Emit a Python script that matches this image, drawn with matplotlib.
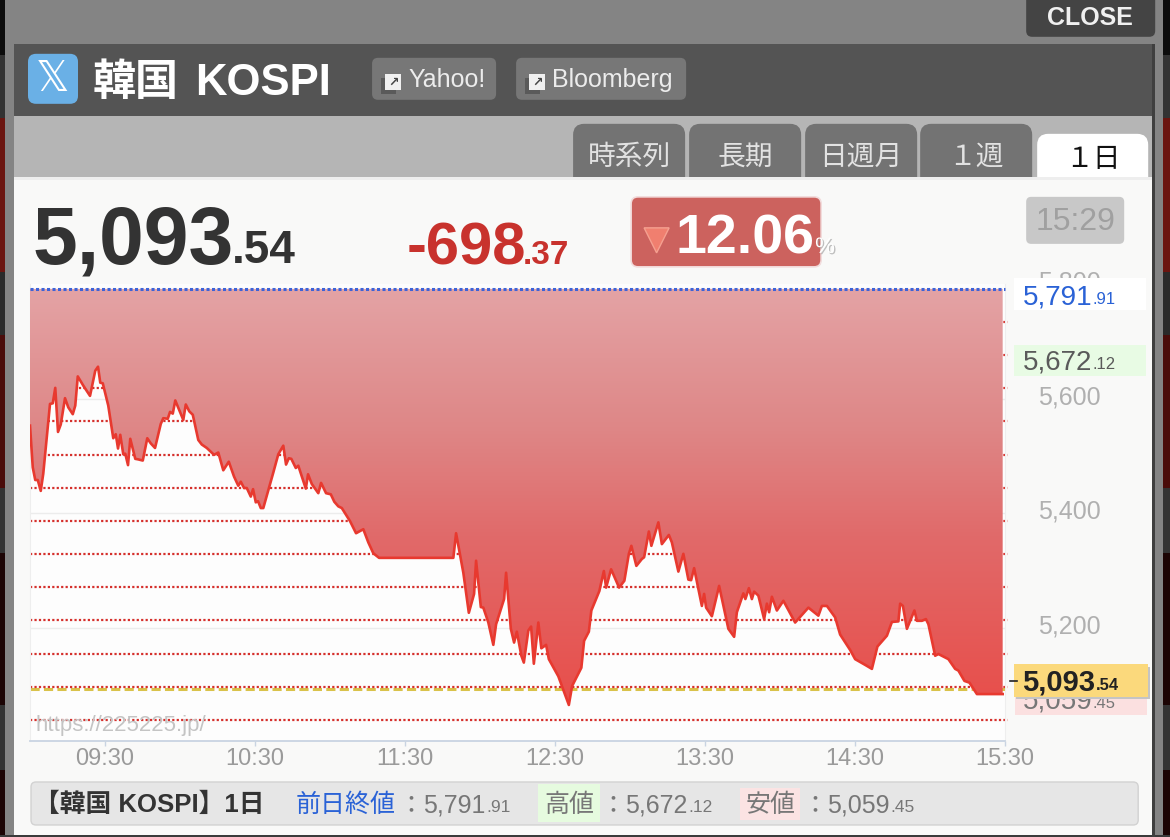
import numpy as np
import matplotlib
matplotlib.use("Agg")
import matplotlib.pyplot as plt
import matplotlib.patheffects as pe
from matplotlib.patches import FancyBboxPatch, Polygon, Rectangle
from matplotlib.transforms import ScaledTranslation

plt.rcParams['font.family'] = ['Liberation Sans', 'Noto Sans CJK JP', 'DejaVu Sans']

# minutes after 09:00
minutes = [0, 1.1, 2.1, 3.1, 4.3, 5.3, 8, 9.1, 10.1, 11.2, 12.3, 14, 15.3, 17.1, 18.1, 19.1, 21.3, 24, 26.1, 27.2,
           28.1, 29.1, 31.3, 33.3, 34.3, 35.2, 36.1, 37.3, 38.1, 39.2, 40.1, 42.1, 43.3, 45.1, 46.9, 48.3, 50, 52.3,
           53.3, 55.1, 56, 57.1, 58.1, 61.3, 62.3, 63.7, 65.1, 67.3, 68.7, 70.7, 73.6, 75.3, 77.3, 79.5, 81.6, 83.3,
           84.3, 85.6, 86.7, 88.3, 89.2, 90.3, 91.2, 92.3, 93.3, 97.3, 99.3, 101.3, 102.4, 103.5, 104.5, 106.3, 107.3,
           110.3, 111.2, 112.7, 115.3, 116.4, 118.4, 120.3, 121.7, 123.3, 124.7, 128, 130.4, 133.3, 135.3, 137.3,
           139.6, 169.3, 170.4, 173.3, 175.5, 177.6, 178.4, 180.3, 181.3, 183.3, 185.3, 186.4, 189.6, 190.4, 192.3,
           193.6, 194.7, 196.5, 197.5, 199.3, 200.4, 201.5, 203.3, 204.5, 206.4, 207.5, 211.3, 215.5, 216.8, 220.5,
           221.6, 223.5, 224.5, 227.7, 229.5, 230.4, 232.4, 235.6, 237.7, 239.5, 240.5, 242.5, 244.7, 245.6, 247.5,
           248.5, 251.3, 252.7, 255.5, 256.7, 259.3, 261.3, 263.3, 264.4, 265.6, 268.7, 269.6, 270.4, 272.7, 275.6,
           279.3, 281.6, 282.7, 285.3, 286.1, 287.5, 288.7, 289.6, 291.3, 293.6, 294.7, 295.6, 296.7, 298.7, 301.3,
           306, 311.3, 315.3, 316.7, 318.7, 322, 324, 328, 330, 334, 336.7, 338.9, 342.7, 344.7, 347.3, 348, 349.1,
           350.7, 353.7, 354.7, 356.7, 358.3, 359.3, 362, 363.3, 367.3, 370, 371.3, 373.7, 375.7, 378.7, 389]
prices = [5553, 5480, 5458, 5458, 5439, 5469, 5591, 5592, 5619, 5542, 5555, 5601, 5585, 5573, 5588, 5639, 5623, 5605,
          5649, 5656, 5628, 5627, 5588, 5531, 5538, 5513, 5537, 5503, 5504, 5484, 5530, 5495, 5494, 5492, 5531, 5522,
          5514, 5556, 5566, 5565, 5577, 5574, 5597, 5563, 5590, 5578, 5572, 5528, 5520, 5514, 5502, 5506, 5475, 5490,
          5464, 5448, 5455, 5444, 5444, 5429, 5442, 5419, 5421, 5409, 5409, 5471, 5503, 5518, 5485, 5496, 5495, 5479,
          5483, 5443, 5468, 5451, 5435, 5453, 5435, 5433, 5420, 5412, 5409, 5386, 5365, 5372, 5349, 5330, 5322, 5322,
          5365, 5296, 5226, 5259, 5317, 5236, 5235, 5209, 5170, 5206, 5250, 5296, 5198, 5174, 5193, 5151, 5139, 5195,
          5202, 5137, 5209, 5164, 5170, 5145, 5115, 5065, 5098, 5130, 5177, 5193, 5230, 5264, 5299, 5270, 5302, 5270,
          5282, 5329, 5343, 5308, 5320, 5323, 5368, 5343, 5384, 5346, 5362, 5349, 5298, 5329, 5284, 5283, 5304, 5238,
          5259, 5235, 5220, 5273, 5198, 5184, 5227, 5260, 5250, 5269, 5250, 5263, 5256, 5215, 5242, 5227, 5254, 5230,
          5247, 5209, 5235, 5221, 5238, 5238, 5218, 5188, 5161, 5145, 5135, 5128, 5167, 5186, 5210, 5211, 5242, 5238,
          5198, 5230, 5212, 5212, 5215, 5206, 5151, 5154, 5145, 5128, 5125, 5107, 5104, 5084, 5084]

prev_close = 5791.91
last_price = 5093.54
pct_steps = [1, 2, 3, 4, 5, 6, 7, 8, 9, 10, 11, 12, 13]
y_ticks = [5200, 5400, 5600, 5800]
x_ticks = [30, 90, 150, 210, 270, 330, 390]
x_tick_labels = ['09:30', '10:30', '11:30', '12:30', '13:30', '14:30', '15:30']
tabs = ['時系列', '長期', '日週月', '１週']
tab_centers = [629, 745, 861, 976]

W, H = 1170, 837
fig = plt.figure(figsize=((W + 0.2) / 100, (H + 0.2) / 100), dpi=100)


def px_axes(zorder):
    # axes covering the whole figure, in pixels with y going down
    a = fig.add_axes([0, 0, 1, 1], zorder=zorder)
    a.set_xlim(0, W)
    a.set_ylim(H, 0)
    a.axis('off')
    return a


def box(a, x0, y0, x1, y1, color, radius=6, edge='none', lw=0, z=2, **kw):
    p = FancyBboxPatch((x0 + radius, y0 + radius), x1 - x0 - 2 * radius, y1 - y0 - 2 * radius,
                       boxstyle=f'round,pad={radius},rounding_size={radius}',
                       fc=color, ec=edge, lw=lw, zorder=z, **kw)
    a.add_patch(p)
    return p


def rect(a, x0, y0, x1, y1, color, z=1):
    a.add_patch(Rectangle((x0, y0), x1 - x0, y1 - y0, fc=color, ec='none', zorder=z))


bg = px_axes(0)
fg = px_axes(2)

# --- page behind the panel
rect(bg, 0, 0, W, H, '#848484', 0)
strips = [(0, 55, '#0c0c0c'), (55, 118, '#333333'), (118, 272, '#6b1510'), (272, 335, '#2a2a2a'),
          (335, 488, '#4a0c0a'), (488, 553, '#333333'), (553, 705, '#1c0404'), (705, 770, '#333333'),
          (770, 837, '#1c0404')]
for y0, y1, c in strips:
    rect(bg, 0, y0, 5, y1, c)
    rect(bg, 1163, y0, W, y1, c)
rect(bg, 0, 835, W, H, '#3a3a3a', 1)
rect(bg, 1152, 44, 1155, 837, '#3f3f3f', 1)

# --- panel
rect(bg, 14, 44, 1152, 116, '#545454')
rect(bg, 14, 116, 1152, 178, '#b5b5b5')
rect(bg, 14, 178, 1152, 835, '#f9f9f8')

box(bg, 1026, -10, 1155, 37, '#444444')
bg.text(1090, 17.5, 'CLOSE', color='#f0f0f0', fontsize=18, fontweight='bold', ha='center', va='center')

box(bg, 28, 54, 78, 104, '#6ab0e6', radius=8)
bg.text(53, 79, '𝕏', family='DejaVu Sans', color='white', fontsize=30, ha='center', va='center')
bg.text(93, 95, '韓国', color='white', fontsize=31, fontweight='bold', ha='left', va='baseline')
bg.text(195, 95, 'KOSPI', color='white', fontsize=31.5, fontweight='bold', ha='left', va='baseline')

for x0, x1, label, tx in [(372, 496, 'Yahoo!', 408), (516, 686, 'Bloomberg', 552)]:
    box(bg, x0, 58, x1, 100, '#777777', radius=6)
    rect(bg, x0 + 9, 78, x0 + 24, 94, '#5a5a5a', 3)
    rect(bg, x0 + 13, 74, x0 + 29, 90, '#f0f0f0', 4)
    bg.text(x0 + 21, 82, '↗', family='DejaVu Sans', color='#444444', fontsize=9, fontweight='bold',
            ha='center', va='center', zorder=5)
    bg.text(tx, 87, label, color='#ececec', fontsize=18, ha='left', va='baseline')

for cx, label in zip(tab_centers, tabs):
    box(bg, cx - 56, 124, cx + 56, 190, '#737373', radius=11, z=1.5)
    bg.text(cx, 158, label, color='#e2e2e2', fontsize=20, ha='center', va='center')
box(bg, 1037, 134, 1148, 190, '#ffffff', radius=11, z=1.5)
rect(bg, 14, 177, 1152, 180, '#eeeeee', 1.8)
rect(bg, 14, 180, 1152, 200, '#f9f9f8', 1.9)
bg.text(1093, 160, '１日', color='#111111', fontsize=20, ha='center', va='center')

# --- headline numbers
bg.text(33, 263, '5,093', color='#333333', fontsize=58, fontweight='bold', va='baseline')
bg.text(232, 263, '.54', color='#333333', fontsize=33, fontweight='bold', va='baseline')
bg.text(407, 264, '-698', color='#c8322d', fontsize=43, fontweight='bold', va='baseline')
bg.text(523, 264, '.37', color='#c8322d', fontsize=24, fontweight='bold', va='baseline')

box(bg, 631, 197, 821, 267, '#cc625e', radius=7, edge='#f2dcdc', lw=1.2)
bg.add_patch(Polygon([(644, 228), (669, 228), (656.5, 253)], fc='#f07f6f', ec='#f5a090', lw=1, zorder=3))
bg.text(675, 253, '12.06', color='white', fontsize=40, fontweight='bold', va='baseline', zorder=4)
bg.text(815, 253, '%', color='white', fontsize=16, va='baseline', zorder=4,
        path_effects=[pe.withSimplePatchShadow(offset=(1, -1), shadow_rgbFace='#999999', alpha=0.6)])

box(bg, 1026, 197, 1124, 244, '#c8c8c8', radius=5)
bg.text(1075, 222, '15:29', color='#a0a0a0', fontsize=23, ha='center', va='center')

# --- chart, the x axis sits on y=741.2 and 5800 on y=284.4, 09:00 on x=30 and 15:30 on x=1005
y_bottom = 5001.7
ax = fig.add_axes([30 / W, 1 - 741.2 / H, 975 / W, (741.2 - 284.4) / H], zorder=1)
ax.set_facecolor('#fdfdfd')
ax.set_xlim(0, 390)
ax.set_ylim(y_bottom, 5800)

for t in [5200, 5400, 5600]:
    ax.axhline(t, color='#ececec', lw=1, zorder=1)

ax.plot([0, 390], [last_price] * 2, color='#d9c24a', lw=2.2, ls=(0, (3, 1.4)), zorder=1.9)
for p in pct_steps:
    ax.plot([0, 391], [prev_close * (1 - p / 100)] * 2, color='#d5302c', lw=1.6, ls=(0, (1, 1)),
            zorder=2, clip_on=False)

fill = ax.fill_between(minutes, prices, prev_close, color='none', zorder=3)
grad_colors = np.array([[228, 163, 165], [222, 135, 135], [225, 105, 105], [232, 78, 74]]) / 255
grad = np.linspace(0, 1, 256)
img = np.stack([np.interp(grad, [0, 0.33, 0.6, 1], grad_colors[:, i]) for i in range(3)], axis=1)[:, None, :]
im = ax.imshow(img, extent=(0, 389, 5059, prev_close), origin='upper', aspect='auto', zorder=3)
im.set_clip_path(fill.get_paths()[0], transform=ax.transData)
ax.set_xlim(0, 390)
ax.set_ylim(y_bottom, 5800)

ax.plot(minutes, prices, color='#e8392f', lw=1.9, zorder=4, solid_joinstyle='round')
ax.plot([0, 390], [prev_close] * 2, color='#3d63d8', lw=2.2, ls=(0, (1, 0.8)), zorder=5, clip_on=False)

ax.text(2.2, 5029, 'https://225225.jp/', color='#c4c4c4', fontsize=16, va='center', zorder=6)

ax.spines['top'].set_visible(False)
ax.spines['left'].set_color('#eeeeee')
ax.spines['right'].set_color('#eeeeee')
ax.spines['bottom'].set_color('#c9d4e2')
ax.spines['bottom'].set_linewidth(1.3)

ax.set_xticks(x_ticks)
ax.set_xticklabels(x_tick_labels)
ax.tick_params(axis='x', length=3.5, width=1, color='#c9d4e2', labelcolor='#9a9a9a', labelsize=17, pad=1.5)
ax.yaxis.tick_right()
ax.set_yticks(y_ticks)
ax.set_yticklabels([f'{t:,}' for t in y_ticks])
ax.tick_params(axis='y', length=0, labelcolor='#b0b0b0', labelsize=18, pad=24)
# the value labels sit a little above their grid lines
for lab in ax.get_yticklabels():
    lab.set_transform(lab.get_transform() + ScaledTranslation(0, 0.04, fig.dpi_scale_trans))

# --- price boxes on the right
rect(fg, 1014, 278, 1146, 310, '#ffffff')
fg.text(1023, 304, '5,791', color='#2a62d6', fontsize=20, va='baseline', zorder=3)
fg.text(1092, 304, '.91', color='#2a62d6', fontsize=12, va='baseline', zorder=3)

rect(fg, 1014, 345, 1146, 376, '#e8fbe4')
fg.text(1023, 369, '5,672', color='#5a5a5a', fontsize=20, va='baseline', zorder=3)
fg.text(1092, 369, '.12', color='#5a5a5a', fontsize=12, va='baseline', zorder=3)

rect(fg, 1015, 690, 1147, 715, '#fbe0e0')
fg.text(1023, 708, '5,059', color='#777777', fontsize=20, va='baseline', zorder=3)
fg.text(1092, 708, '.45', color='#777777', fontsize=12, va='baseline', zorder=3)

rect(fg, 1016, 667, 1150, 699, '#c4c4c4', 4)
rect(fg, 1014, 664, 1148, 697, '#fbd97c', 5)
fg.plot([1010, 1017], [681, 681], color='#222222', lw=1.2, zorder=5)
fg.text(1022, 690, '5,093', color='#222222', fontsize=21, fontweight='bold', va='baseline', zorder=6)
fg.text(1096, 690, '.54', color='#222222', fontsize=12, fontweight='bold', va='baseline', zorder=6)

# --- summary bar
box(bg, 31, 782, 1138, 825, '#e6e6e6', radius=5, edge='#d2d2d2', lw=1)
bg.text(34, 812, '【韓国 KOSPI】1日', color='#333333', fontsize=18.5, fontweight='bold', va='baseline', zorder=4)
bg.text(296, 812, '前日終値', color='#2a62d6', fontsize=18, va='baseline', zorder=4)
rect(bg, 538, 784, 600, 822, '#e6fbdf', 3)
bg.text(544, 812, '高値', color='#777777', fontsize=18, va='baseline', zorder=4)
rect(bg, 740, 788, 800, 820, '#fbe3e3', 3)
bg.text(745, 812, '安値', color='#777777', fontsize=18, va='baseline', zorder=4)
for colon_x, big_x, small_x, big, small in [(398, 423, 486, '5,791', '.91'), (600, 625, 688, '5,672', '.12'),
                                            (802, 827, 890, '5,059', '.45')]:
    bg.text(colon_x, 812, '：', color='#777777', fontsize=18, va='baseline', zorder=4)
    bg.text(big_x, 812, big, color='#777777', fontsize=18, va='baseline', zorder=4)
    bg.text(small_x, 812, small, color='#777777', fontsize=12.5, va='baseline', zorder=4)

fig.savefig('out.png', dpi=100)
